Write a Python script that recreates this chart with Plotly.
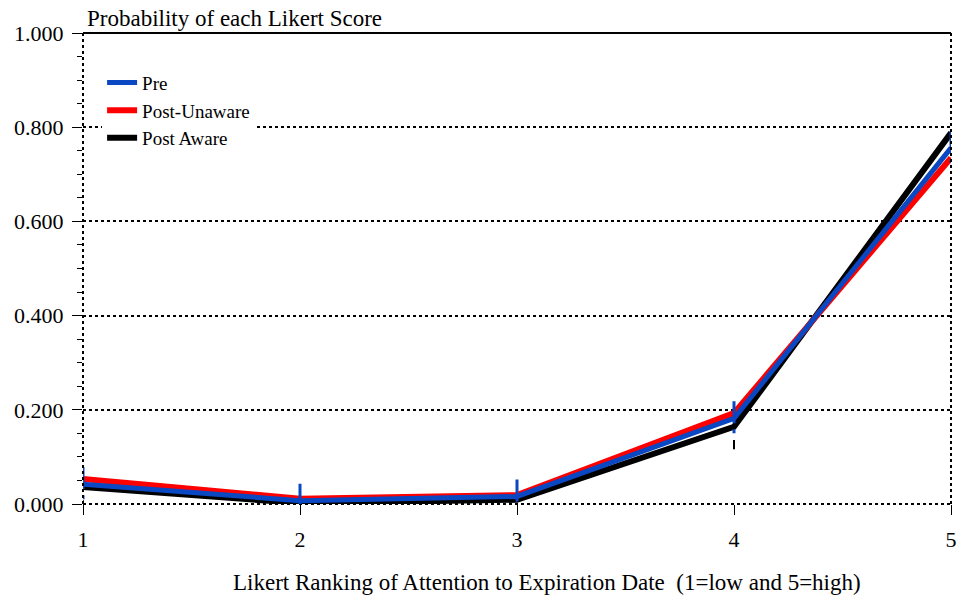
import plotly.graph_objects as go

# Likert scores and per-group probabilities
scores = [1, 2, 3, 4, 5]
pre = [0.042, 0.007, 0.016, 0.182, 0.756]
post_unaware = [0.053, 0.011, 0.019, 0.193, 0.735]
post_aware = [0.036, 0.002, 0.009, 0.164, 0.788]
pre_err = [0.036, 0.036, 0.036, 0.036, 0.036]

y_ticks = [0, 0.2, 0.4, 0.6, 0.8, 1.0]

SERIF = "Liberation Serif, Times New Roman, serif"
BLUE = "#0a47c2"
RED = "#ff0000"
BLACK = "#000000"


def segments(xs, lo, hi):
    """Build broken vertical segments (x, y) for whisker marks."""
    sx, sy = [], []
    for x, a, b in zip(xs, lo, hi):
        sx += [x, x, None]
        sy += [a, b, None]
    return sx, sy


fig = go.Figure()

# Post Aware (drawn first, underneath)
fig.add_trace(go.Scatter(
    x=scores, y=post_aware, mode="lines", name="Post Aware",
    line=dict(color=BLACK, width=6), legendgroup="c", legendrank=3,
    cliponaxis=False,
))
# small marks below the Post Aware points
bx, by = segments(scores, [v - 0.028 for v in post_aware], [v - 0.048 for v in post_aware])
fig.add_trace(go.Scatter(
    x=bx, y=by, mode="lines", showlegend=False, hoverinfo="skip",
    line=dict(color=BLACK, width=2), cliponaxis=False,
))

fig.add_trace(go.Scatter(
    x=scores, y=post_unaware, mode="lines", name="Post-Unaware",
    line=dict(color=RED, width=6), legendgroup="b", legendrank=2,
    cliponaxis=False,
))

fig.add_trace(go.Scatter(
    x=scores, y=pre, mode="lines", name="Pre",
    line=dict(color=BLUE, width=5), legendgroup="a", legendrank=1,
    cliponaxis=False,
))
# whiskers on the Pre points
wx, wy = segments(scores, [v + e for v, e in zip(pre, pre_err)], [v - e for v, e in zip(pre, pre_err)])
fig.add_trace(go.Scatter(
    x=wx, y=wy, mode="lines", showlegend=False, hoverinfo="skip",
    line=dict(color=BLUE, width=3, dash="22px,6px,4px,10px"), cliponaxis=False,
))

tick_font = dict(family=SERIF, size=22, color="black")

fig.update_layout(
    width=962, height=601,
    margin=dict(l=83, r=11, t=33, b=97, autoexpand=False),
    paper_bgcolor="white", plot_bgcolor="white",
    showlegend=True,
    legend=dict(
        x=0.022, y=0.935, xanchor="left", yanchor="top",
        bgcolor="white", font=dict(family=SERIF, size=19, color="black"),
        itemwidth=30, tracegroupgap=9, traceorder="normal",
    ),
    xaxis=dict(
        range=[1, 5], tickvals=scores, ticktext=[str(s) for s in scores],
        showgrid=False, zeroline=False, showline=False,
        ticks="outside", ticklen=10, tickwidth=1, tickcolor="black",
        tickfont=tick_font, ticklabelstandoff=6, automargin=False,
    ),
    yaxis=dict(
        range=[0, 1], tickvals=y_ticks, tickformat=".3f",
        showgrid=True, gridcolor="black", griddash="dot", gridwidth=1.5,
        zeroline=False, showline=False,
        ticks="outside", ticklen=10, tickwidth=1, tickcolor="black",
        tickfont=tick_font, ticklabelstandoff=4, automargin=False,
        minor=dict(dtick=0.05, ticks="outside", ticklen=5, tickcolor="black", showgrid=False),
    ),
    shapes=[
        dict(type="line", xref="paper", yref="paper", x0=0, x1=1, y0=1, y1=1,
             line=dict(color="black", width=2)),
        dict(type="line", xref="paper", yref="paper", x0=0, x1=0, y0=0, y1=1,
             line=dict(color="black", width=2, dash="dot")),
        dict(type="line", xref="paper", yref="paper", x0=1, x1=1, y0=0, y1=1,
             line=dict(color="black", width=2, dash="dot")),
        dict(type="line", xref="paper", yref="paper", x0=0, x1=1, y0=0, y1=0,
             line=dict(color="black", width=2, dash="dot"), layer="below"),
    ],
    annotations=[
        dict(text="Probability of each Likert Score", xref="paper", yref="paper",
             x=0, y=1, xanchor="left", yanchor="bottom", xshift=2, yshift=0,
             showarrow=False, font=dict(family=SERIF, size=23, color="black")),
        dict(text="Likert Ranking of Attention to Expiration Date \u00a0(1=low and 5=high)",
             xref="paper", yref="paper", x=0.535, y=0, xanchor="center", yanchor="middle",
             yshift=-78, showarrow=False, font=dict(family=SERIF, size=23, color="black")),
    ],
)

fig.write_html("out.html")
